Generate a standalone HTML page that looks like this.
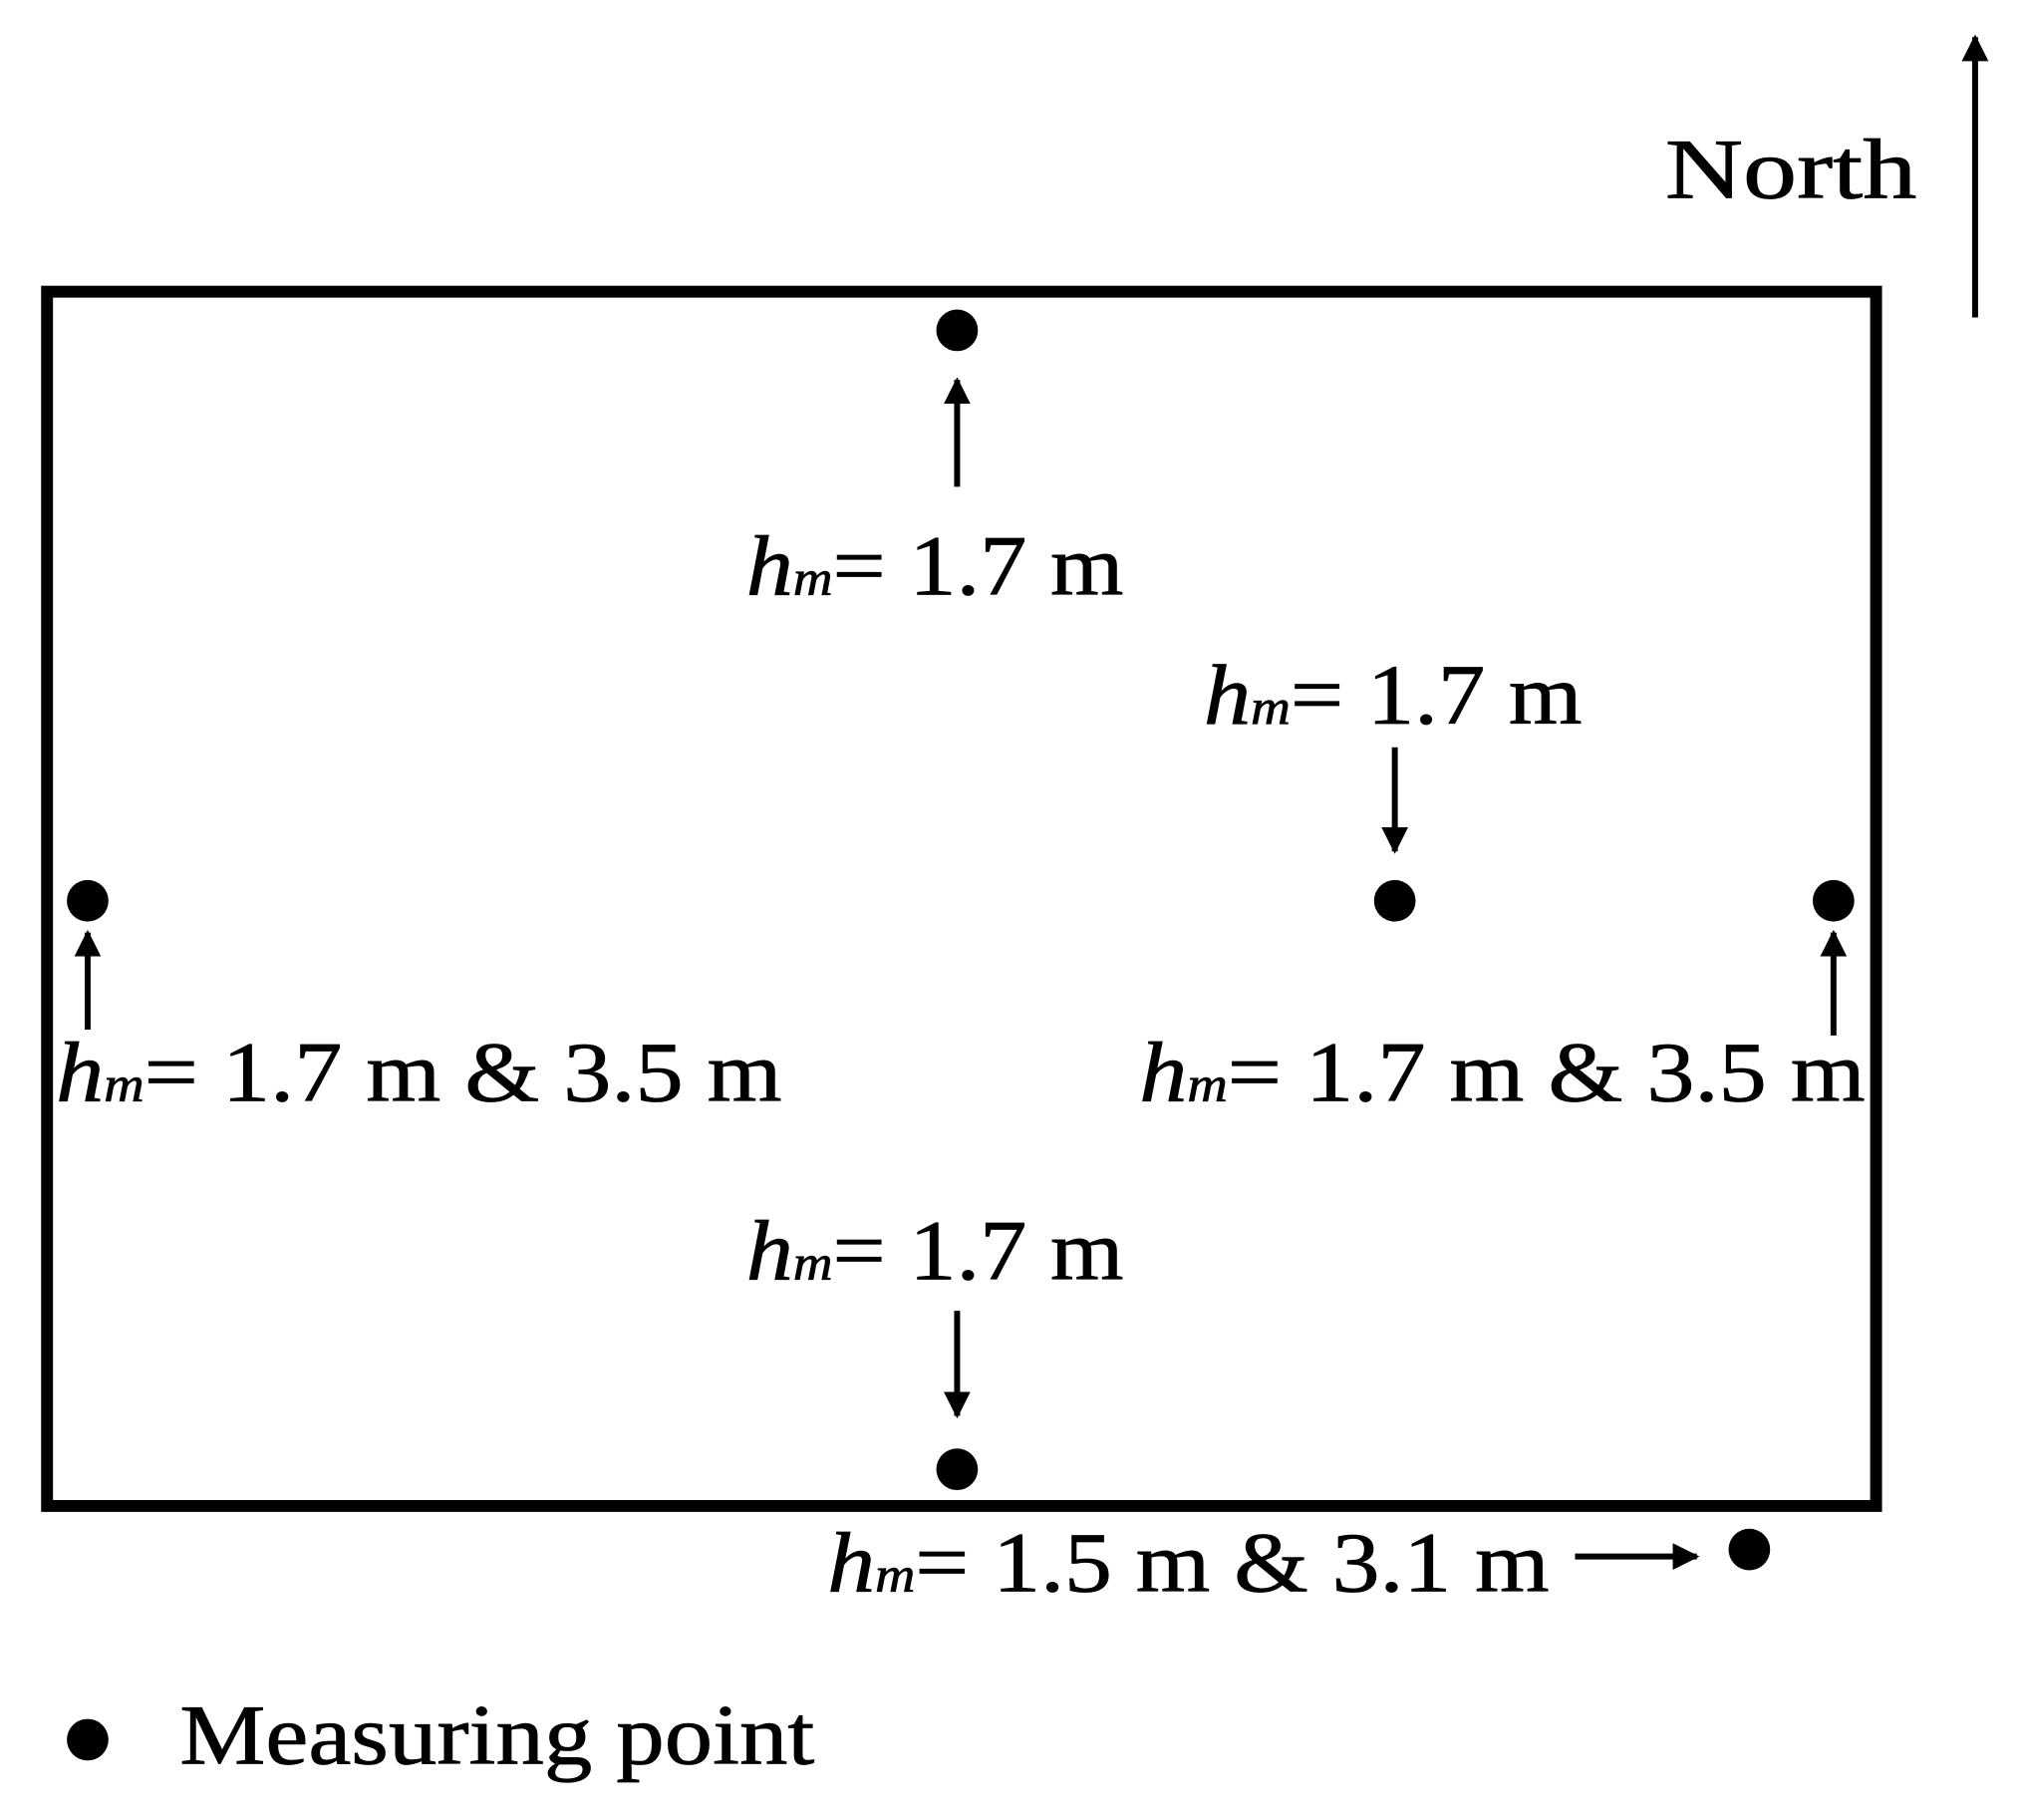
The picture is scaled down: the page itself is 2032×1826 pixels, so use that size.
<!DOCTYPE html>
<html><head><meta charset="utf-8"><style>html,body{margin:0;padding:0;background:#fff}</style></head>
<body>
<svg width="2032" height="1821" viewBox="0 0 2032 1821" xmlns="http://www.w3.org/2000/svg" font-family="Liberation Serif, serif" font-size="86" fill="#000">
<defs>
<marker id="a" viewBox="0 0 10 10" refX="9" refY="5" markerWidth="4.5" markerHeight="4.5" orient="auto" markerUnits="strokeWidth"><path d="M0,0 L10,5 L0,10 z" fill="#000"/></marker>
</defs>
<g transform="translate(1.5,1.5) scale(0.9937)">
<rect x="46" y="293" width="1847" height="1226" fill="none" stroke="#000" stroke-width="12"/>
<g fill="#000">
<circle cx="965" cy="332" r="21"/>
<circle cx="87" cy="908" r="21"/>
<circle cx="1407" cy="908" r="21"/>
<circle cx="1850" cy="908" r="21"/>
<circle cx="965" cy="1482" r="21"/>
<circle cx="1765" cy="1563" r="21"/>
<circle cx="87" cy="1755" r="21"/>
</g>
<g stroke="#000" stroke-width="6" marker-end="url(#a)">
<line x1="1993" y1="319" x2="1993" y2="36"/>
<line x1="965" y1="490" x2="965" y2="382"/>
<line x1="1407" y1="753" x2="1407" y2="858"/>
<line x1="87" y1="1038" x2="87" y2="940"/>
<line x1="1850" y1="1044" x2="1850" y2="940"/>
<line x1="965" y1="1322" x2="965" y2="1428"/>
<line x1="1589" y1="1570" x2="1712" y2="1570"/>
</g>
<g stroke="#000" stroke-width="0.8">
<text x="752" y="599" textLength="381" lengthAdjust="spacingAndGlyphs"><tspan font-style="italic">h</tspan><tspan font-style="italic" font-size="50">m</tspan>= 1.7 m</text>
<text x="1214" y="729" textLength="382" lengthAdjust="spacingAndGlyphs"><tspan font-style="italic">h</tspan><tspan font-style="italic" font-size="50">m</tspan>= 1.7 m</text>
<text x="55" y="1110" textLength="733" lengthAdjust="spacingAndGlyphs"><tspan font-style="italic">h</tspan><tspan font-style="italic" font-size="50">m</tspan>= 1.7 m &amp; 3.5 m</text>
<text x="1149" y="1110" textLength="733" lengthAdjust="spacingAndGlyphs"><tspan font-style="italic">h</tspan><tspan font-style="italic" font-size="50">m</tspan>= 1.7 m &amp; 3.5 m</text>
<text x="752" y="1290" textLength="381" lengthAdjust="spacingAndGlyphs"><tspan font-style="italic">h</tspan><tspan font-style="italic" font-size="50">m</tspan>= 1.7 m</text>
<text x="834" y="1605" textLength="729" lengthAdjust="spacingAndGlyphs"><tspan font-style="italic">h</tspan><tspan font-style="italic" font-size="50">m</tspan>= 1.5 m &amp; 3.1 m</text>
<text x="180" y="1779" textLength="641" lengthAdjust="spacingAndGlyphs">Measuring point</text>
<text x="1680" y="198" textLength="254" lengthAdjust="spacingAndGlyphs">North</text>
</g>
</g>
</svg>
</body></html>
